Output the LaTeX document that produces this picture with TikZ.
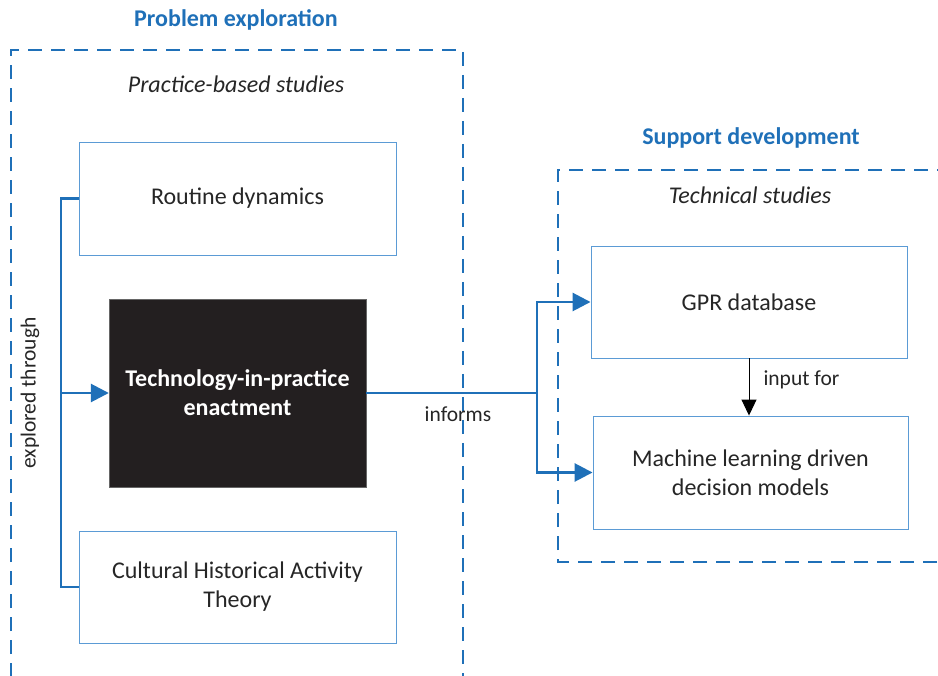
\documentclass[tikz,border=0pt]{standalone}
\usepackage{fontspec}
\setmainfont{Carlito}
\usetikzlibrary{arrows.meta}
\definecolor{frameblue}{HTML}{1F70B8}
\definecolor{boxblue}{HTML}{5B9BD5}
\definecolor{darkfill}{HTML}{231F20}
\tikzset{
  x=1pt, y=-1pt,
  groupframe/.style={draw=frameblue, line width=1.7pt, dash pattern=on 14pt off 9pt},
  grouptitle/.style={text=frameblue, font=\fontsize{24}{28}\selectfont\bfseries},
  studytitle/.style={font=\fontsize{24}{28}\selectfont\itshape, text=black!85},
  conceptbox/.style={draw=boxblue, line width=0.9pt, fill=white, align=center,
    font=\fontsize{24}{29}\selectfont, text=black!85, inner sep=0pt},
  keybox/.style={draw=black!60, fill=darkfill, align=center, text=white,
    font=\fontsize{24}{29}\selectfont\bfseries, inner sep=0pt},
  bluelink/.style={draw=frameblue, line width=2.8pt},
  bluearrow/.style={bluelink, -{Triangle[length=18pt, width=18pt]}},
  blackarrow/.style={draw=black, line width=1pt, -{Triangle[length=16pt, width=15pt]}},
  linklabel/.style={font=\fontsize{21.5}{25}\selectfont, text=black!85},
}
\begin{document}
\begin{tikzpicture}
\useasboundingbox (0,0) rectangle (938,676);
\begin{scope}
  \clip (0,0) rectangle (938,676);
  % dashed study frames, open past the page edges
  \draw[groupframe] (11,700) -- (11,50) -- (463,50) -- (463,700);
  \draw[groupframe] (960,562) -- (558,562) -- (558,170) -- (960,170);
\end{scope}

\node[grouptitle] (t1) at (236,20) {Problem exploration};
\node[studytitle] (s1) at (236,84) {Practice-based studies};
\node[grouptitle] (t2) at (751,138) {Support development};
\node[studytitle] (s2) at (750,195) {Technical studies};

\node[conceptbox, minimum width=317pt, minimum height=113pt] (rd) at (237.5,198.5) {Routine dynamics};
\node[keybox, minimum width=257pt, minimum height=188pt] (tip) at (237.5,393) {Technology-in-practice\\enactment};
\node[conceptbox, minimum width=317pt, minimum height=112pt] (chat) at (237.5,587) {Cultural Historical Activity\\Theory};

\node[conceptbox, minimum width=316pt, minimum height=112pt] (gpr) at (749,302) {GPR database};
\node[conceptbox, minimum width=315pt, minimum height=113pt] (ml) at (750.5,472.5) {Machine learning driven\\decision models};

% explored-through bracket
\coordinate (ltop) at (61,198.5);
\coordinate (lmid) at (61,393);
\coordinate (lbot) at (61,587);
\draw[bluelink] (rd.west) -- (ltop) -- (lbot) -- (chat.west);
\draw[bluearrow] (lmid) -- (tip.west);
\node[linklabel, rotate=90] (exl) at (30,393) {explored through};

% informs fork
\coordinate (fork) at (537,393);
\draw[bluelink] (tip.east) -- (fork);
\draw[bluearrow] (fork) |- (gpr.west);
\draw[bluearrow] (fork) |- (ml.west);
\node[linklabel] (inf) at (458,414) {informs};

% input-for link
\draw[blackarrow] (gpr.south) -- (gpr.south |- ml.north);
\node[linklabel, anchor=west] (inp) at (760,380) {input for};
\end{tikzpicture}
\end{document}
